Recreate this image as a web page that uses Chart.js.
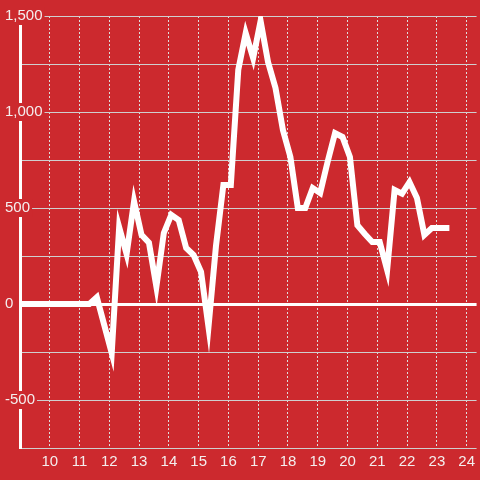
<!DOCTYPE html>
<html>
<head>
<meta charset="utf-8">
<script src="https://cdn.jsdelivr.net/npm/chart.js@4/dist/chart.umd.min.js"></script>
<style>
    html, body { margin: 0; padding: 0; background: #cc292e; }
    #wrap { width: 480px; height: 480px; position: relative; }
</style>
</head>
<body>
<div id="wrap"><canvas id="lineChart"></canvas></div>
<script>
// Hour of day (x) and value (y) for the single series
const hours = [
    8.83, 9.08, 9.33, 9.58, 9.83, 10.08, 10.33, 10.58, 10.83, 11.08,
    11.33, 11.58, 11.83, 12.08, 12.33, 12.58, 12.83, 13.08, 13.33, 13.58,
    13.83, 14.08, 14.33, 14.58, 14.83, 15.08, 15.33, 15.58, 15.83, 16.08,
    16.33, 16.58, 16.83, 17.08, 17.33, 17.58, 17.83, 18.08, 18.33, 18.58,
    18.83, 19.08, 19.33, 19.58, 19.83, 20.08, 20.33, 20.58, 20.83, 21.08,
    21.33, 21.58, 21.83, 22.08, 22.33, 22.58, 22.83, 23.08, 23.42
];
const values = [
    0, 0, 0, 0, 0, 0, 0, 0, 0, 0,
    0, 35, -110, -255, 400, 260, 535, 360, 320, 90,
    370, 464, 437, 292, 255, 167, -120, 300, 620, 620,
    1219, 1411, 1281, 1474, 1260, 1125, 906, 766, 500, 500,
    604, 578, 740, 890, 870, 766, 410, 365, 323, 323,
    177, 594, 575, 635, 552, 360, 396, 396, 396
];

const bgColor = '#cc292e';
const textColor = '#f4eeee';

document.addEventListener('DOMContentLoaded', function () {
    const ctx = document.getElementById('lineChart').getContext('2d');
    new Chart(ctx, {
        type: 'line',
        data: {
            datasets: [{
                data: hours.map((h, i) => ({ x: h, y: values[i] })),
                borderColor: '#ffffff',
                borderWidth: 6,
                pointRadius: 0,
                tension: 0,
                fill: false
            }]
        },
        options: {
            responsive: true,
            maintainAspectRatio: false,
            animation: false,
            layout: { padding: { top: 16, left: 0, right: 0, bottom: 0 } },
            plugins: {
                legend: { display: false },
                tooltip: { enabled: false }
            },
            scales: {
                x: {
                    type: 'linear',
                    min: 9,
                    max: 24.333,
                    afterFit: (scale) => { scale.height = 32; },
                    grid: {
                        color: '#dddddd',
                        lineWidth: 1,
                        drawTicks: false
                    },
                    border: { display: false, dash: [2, 2] },
                    ticks: {
                        stepSize: 1,
                        includeBounds: false,
                        maxRotation: 0,
                        autoSkip: false,
                        padding: 5,
                        color: textColor,
                        font: { family: 'Liberation Sans, Arial', size: 15 },
                        callback: (v) => (v === 9 ? '' : v)
                    }
                },
                y: {
                    min: -750,
                    max: 1500,
                    afterFit: (scale) => { scale.width = 20; },
                    grid: {
                        color: (c) => (c.tick && c.tick.value === 0 ? '#ffffff' : '#cfcfcf'),
                        lineWidth: (c) => (c.tick && c.tick.value === 0 ? 3 : 1),
                        drawTicks: false
                    },
                    border: { color: '#ffffff', width: 3 },
                    ticks: {
                        stepSize: 250,
                        mirror: true,
                        crossAlign: 'near',
                        padding: -15,
                        color: textColor,
                        font: { family: 'Liberation Sans, Arial', size: 15 },
                        showLabelBackdrop: (c) => c.tick && c.tick.value % 500 === 0,
                        backdropColor: bgColor,
                        backdropPadding: { top: 0, bottom: 0, left: 2, right: 2 },
                        callback: (v) => (v % 500 === 0 ? v.toLocaleString('en-US') : '')
                    }
                }
            }
        }
    });
});
</script>
</body>
</html>
